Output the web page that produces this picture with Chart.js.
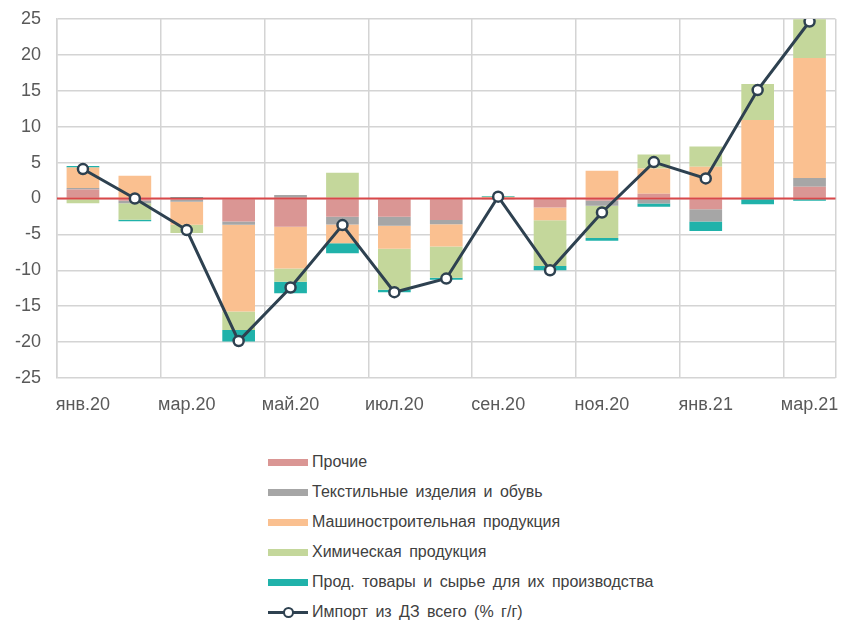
<!DOCTYPE html>
<html>
<head>
<meta charset="utf-8">
<script src="https://cdn.jsdelivr.net/npm/chart.js@4/dist/chart.umd.min.js"></script>
<style>
  body { margin: 0; background: #fff; }
  #wrap { position: relative; width: 843px; height: 624px; }
  #box { position: absolute; left: 0; top: 0; width: 843px; height: 440px; }
  #legend { position: absolute; left: 268px; top: 447px; font-family: "Liberation Sans", Arial, sans-serif; font-size: 16px; color: #404040; }
  .item { height: 30px; line-height: 30px; display: flex; align-items: center; }
  .mark { width: 40px; height: 7px; margin-right: 4px; }
  .lmark { position: relative; width: 40px; height: 30px; margin-right: 4px; }
  .lmark .ln { position: absolute; left: 0; top: 14px; width: 40px; height: 3px; }
  .lmark .dot { position: absolute; left: 15px; top: 10px; width: 7px; height: 7px; border-radius: 50%; background: #fff; border: 2.5px solid; }
  .txt { word-spacing: 3px; }
</style>
</head>
<body>
<div id="wrap">
  <div id="box"><canvas id="chart"></canvas></div>
  <div id="legend"></div>
</div>
<script>
// ==================== ДАННЫЕ ====================
const months = ['янв.20', 'фев.20', 'мар.20', 'апр.20', 'май.20', 'июн.20', 'июл.20', 'авг.20',
                'сен.20', 'окт.20', 'ноя.20', 'дек.20', 'янв.21', 'фев.21', 'мар.21'];

const prochie   = [1.26, -0.3, -0.2, -3.2, -3.95, -2.55, -2.55, -3.0, -0.15, -1.25, -0.3, 0.65, -1.5, 0, 1.63];
const textile   = [0.2, -0.37, -0.25, -0.45, 0.5, -1.07, -1.25, -0.6, 0, 0, -0.7, -0.7, -1.72, 0, 1.21];
const machinery = [2.87, 3.17, -3.2, -12.1, -5.8, -2.6, -3.2, -3.07, 0.2, -1.77, 3.87, 3.53, 4.42, 10.93, 16.73];
const chemical  = [-0.65, -2.3, -1.15, -2.55, -1.86, 3.6, -5.7, -4.37, 0.05, -6.37, -4.5, 1.95, 2.83, 5.02, 5.4];
const food      = [0.2, -0.2, 0.2, -1.6, -1.6, -1.4, -0.37, -0.28, 0.1, -0.6, -0.37, -0.46, -1.3, -0.8, -0.3];
const importTotal = [4.1, 0.0, -4.4, -19.85, -12.4, -3.7, -13.05, -11.15, 0.25, -10.0, -1.95, 5.07, 2.8, 15.1, 24.65];

const yTicks = [-25, -20, -15, -10, -5, 0, 5, 10, 15, 20, 25];

const barSeries = [
    { label: 'Прочие', data: prochie, color: '#da9694' },
    { label: 'Текстильные изделия и обувь', data: textile, color: '#a6a6a6' },
    { label: 'Машиностроительная продукция', data: machinery, color: '#fac090' },
    { label: 'Химическая продукция', data: chemical, color: '#c4d79b' },
    { label: 'Прод. товары и сырье для их производства', data: food, color: '#20b2aa' }
];
const lineLabel = 'Импорт из ДЗ всего (% г/г)';
const lineColor = '#2e4150';
const gridColor = '#d4d4d4';

// Красная линия нуля поверх столбцов, но под линией импорта
const zeroLine = {
    id: 'zeroLine',
    beforeDatasetDraw(chart, args) {
        if (args.meta.type !== 'line') return;
        const { ctx, chartArea, scales } = chart;
        const y = scales.y.getPixelForValue(0);
        ctx.save();
        ctx.strokeStyle = '#d9484a';
        ctx.lineWidth = 2;
        ctx.beginPath();
        ctx.moveTo(chartArea.left, y);
        ctx.lineTo(chartArea.right, y);
        ctx.stroke();
        ctx.restore();
    }
};

const datasets = barSeries.map(s => ({
    type: 'bar',
    label: s.label,
    data: s.data,
    backgroundColor: s.color,
    borderWidth: 0,
    categoryPercentage: 1,
    barPercentage: 0.63,
    order: 1
}));
datasets.push({
    type: 'line',
    label: lineLabel,
    data: importTotal,
    borderColor: lineColor,
    borderWidth: 3,
    pointRadius: 5,
    pointBorderWidth: 2.5,
    pointBackgroundColor: '#fff',
    pointBorderColor: lineColor,
    tension: 0,
    order: 0
});

new Chart(document.getElementById('chart'), {
    type: 'bar',
    data: { labels: months, datasets: datasets },
    plugins: [zeroLine],
    options: {
        responsive: true,
        maintainAspectRatio: false,
        animation: false,
        layout: { padding: { top: 19, right: 6, left: 0, bottom: 0 } },
        plugins: {
            legend: { display: false },
            tooltip: { enabled: false }
        },
        scales: {
            x: {
                stacked: true,
                offset: true,
                afterFit: scale => {
                    scale.height = 62;
                    scale.paddingLeft = 0;
                    scale.paddingRight = 0;
                },
                grid: {
                    offset: true,
                    drawTicks: false,
                    lineWidth: 1.5,
                    color: ctx => (ctx.index === undefined || ctx.index % 2 === 0) ? gridColor : 'rgba(0,0,0,0)'
                },
                border: { display: false },
                ticks: {
                    autoSkip: false,
                    maxRotation: 0,
                    padding: 16,
                    color: '#595959',
                    font: { family: '"Liberation Sans", Arial, sans-serif', size: 18 },
                    callback: function(value, index) {
                        return index % 2 === 0 ? this.getLabelForValue(value) : '';
                    }
                }
            },
            y: {
                stacked: true,
                min: -25,
                max: 25,
                afterFit: scale => {
                    scale.width = 57;
                    scale.paddingTop = 0;
                    scale.paddingBottom = 0;
                },
                afterBuildTicks: scale => { scale.ticks = yTicks.map(v => ({ value: v })); },
                grid: { drawTicks: false, lineWidth: 1.5, color: gridColor },
                border: { color: gridColor, width: 1.5 },
                ticks: {
                    padding: 16,
                    color: '#595959',
                    font: { family: '"Liberation Sans", Arial, sans-serif', size: 18 }
                }
            }
        }
    }
});

// Легенда столбиком под графиком
const legendEl = document.getElementById('legend');
barSeries.forEach(s => {
    const row = document.createElement('div');
    row.className = 'item';
    row.innerHTML = `<span class="mark" style="background:${s.color}"></span><span class="txt">${s.label}</span>`;
    legendEl.appendChild(row);
});
const lineRow = document.createElement('div');
lineRow.className = 'item';
lineRow.innerHTML = `<span class="lmark"><span class="ln" style="background:${lineColor}"></span>` +
    `<span class="dot" style="border-color:${lineColor}"></span></span><span class="txt">${lineLabel}</span>`;
legendEl.appendChild(lineRow);
</script>
</body>
</html>
